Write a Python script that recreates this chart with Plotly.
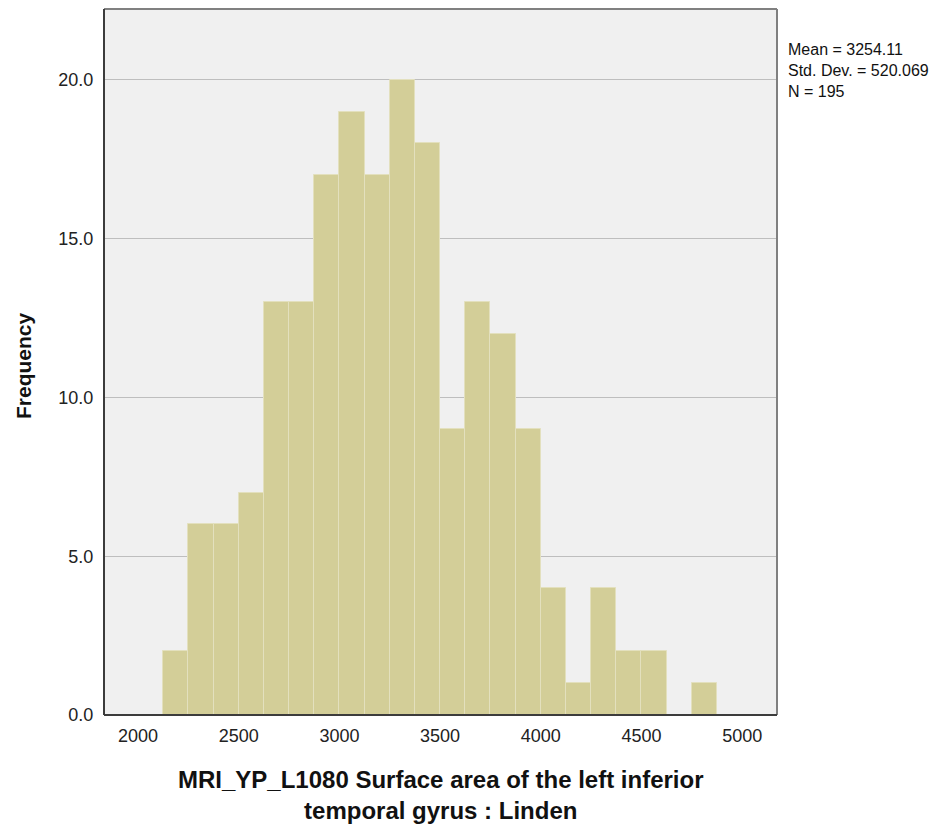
import plotly.graph_objects as go

bin_starts = [2125, 2250, 2375, 2500, 2625, 2750, 2875, 3000, 3125, 3250, 3375,
              3500, 3625, 3750, 3875, 4000, 4125, 4250, 4375, 4500, 4625, 4750]
counts = [2, 6, 6, 7, 13, 13, 17, 19, 17, 20, 18,
          9, 13, 12, 9, 4, 1, 4, 2, 2, 0, 1]
bin_width = 125
x_ticks = [2000, 2500, 3000, 3500, 4000, 4500, 5000]
y_ticks = [0, 5, 10, 15, 20]
stats_text = ["Mean = 3254.11", "Std. Dev. = 520.069", "N = 195"]
x_title_lines = ["MRI_YP_L1080 Surface area of the left inferior", "temporal gyrus : Linden"]
y_title = "Frequency"

centers = [s + bin_width / 2 for s in bin_starts]
FONT = "Liberation Sans, Arial, sans-serif"

fig = go.Figure()
fig.add_trace(go.Bar(
    x=centers, y=counts, width=[bin_width] * len(centers),
    marker=dict(color="#D3CE98", line=dict(color="#E3E0BE", width=1)),
    hoverinfo="x+y", showlegend=False,
))

fig.update_layout(
    width=951, height=825,
    margin=dict(l=96, r=182, t=1, b=118),
    paper_bgcolor="white", plot_bgcolor="#F0F0F0",
    font=dict(family=FONT, size=18, color="#222"),
    bargap=0,
)
fig.update_xaxes(
    range=[1831, 5173], tickvals=x_ticks, ticktext=[str(v) for v in x_ticks],
    showgrid=False, zeroline=False, showline=False,
    ticks="outside", ticklen=4, tickcolor="rgba(0,0,0,0)",
    tickfont=dict(family=FONT, size=18, color="#222"),
)
fig.update_yaxes(
    range=[0, 22.23], tickvals=y_ticks, ticktext=[f"{v:.1f}" for v in y_ticks],
    showgrid=True, gridcolor="#BEBEBE", gridwidth=1, zeroline=False,
    showline=False, ticks="outside", ticklen=6, tickcolor="rgba(0,0,0,0)",
    tickfont=dict(family=FONT, size=18, color="#222"),
)
# plot frame
fig.add_shape(type="line", xref="paper", yref="paper", x0=0, x1=1, y0=1, y1=1,
              line=dict(color="#808080", width=2))
fig.add_shape(type="line", xref="paper", yref="paper", x0=1, x1=1, y0=0, y1=1,
              line=dict(color="#808080", width=2))
fig.add_shape(type="line", xref="paper", yref="paper", x0=0, x1=0, y0=0, y1=1,
              line=dict(color="#3C3C3C", width=2))
fig.add_shape(type="line", xref="paper", yref="paper", x0=0, x1=1, y0=0, y1=0,
              line=dict(color="#3C3C3C", width=2))

fig.add_annotation(
    xref="paper", yref="paper", x=1.0, y=1.0, xanchor="left", yanchor="middle",
    xshift=9, yshift=-70.5 + 9, showarrow=False, align="left",
    text="<br>".join(stats_text), font=dict(family=FONT, size=16, color="#111"),
)
fig.add_annotation(
    xref="paper", yref="paper", x=0.5, y=0.0, xanchor="center", yanchor="middle",
    yshift=-80, showarrow=False, align="center",
    text="<b>" + "<br>".join(x_title_lines) + "</b>",
    font=dict(family=FONT, size=24, color="#111"),
)
fig.add_annotation(
    xref="paper", yref="paper", x=0.0, y=0.5, xanchor="center", yanchor="middle",
    xshift=-81, yshift=-4, textangle=-90, showarrow=False,
    text=f"<b>{y_title}</b>", font=dict(family=FONT, size=21, color="#111"),
)
fig.write_html("out.html")
